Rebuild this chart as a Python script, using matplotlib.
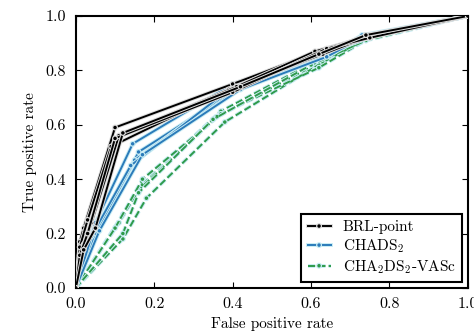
import matplotlib
matplotlib.use("Agg")
import matplotlib.pyplot as plt
import matplotlib.patheffects as pe

plt.rcParams['font.family'] = ['cmr10', 'DejaVu Serif']
plt.rcParams['mathtext.fontset'] = 'cm'
plt.rcParams['axes.formatter.use_mathtext'] = True

# ROC curves (5 folds per method): (fpr, tpr)
brl_fpr = [
    [0, 0.01, 0.02, 0.10, 0.40, 0.62, 0.75, 1.0],
    [0, 0.01, 0.03, 0.09, 0.39, 0.63, 0.74, 1.0],
    [0, 0.02, 0.04, 0.11, 0.41, 0.61, 0.76, 1.0],
    [0, 0.01, 0.03, 0.10, 0.40, 0.64, 0.75, 1.0],
    [0, 0.02, 0.05, 0.12, 0.42, 0.62, 0.74, 1.0],
]
brl_tpr = [
    [0, 0.17, 0.22, 0.59, 0.75, 0.87, 0.93, 1.0],
    [0, 0.15, 0.25, 0.52, 0.73, 0.86, 0.92, 1.0],
    [0, 0.16, 0.24, 0.56, 0.74, 0.87, 0.93, 1.0],
    [0, 0.12, 0.20, 0.55, 0.72, 0.88, 0.92, 1.0],
    [0, 0.14, 0.22, 0.57, 0.74, 0.86, 0.93, 1.0],
]
chads_fpr = [
    [0, 0.05, 0.145, 0.40, 0.64, 0.74, 1.0],
    [0, 0.06, 0.16, 0.41, 0.65, 0.73, 1.0],
    [0, 0.05, 0.15, 0.39, 0.63, 0.75, 1.0],
    [0, 0.04, 0.14, 0.40, 0.66, 0.74, 1.0],
    [0, 0.06, 0.17, 0.42, 0.64, 0.73, 1.0],
]
chads_tpr = [
    [0, 0.24, 0.53, 0.75, 0.87, 0.92, 1.0],
    [0, 0.22, 0.50, 0.73, 0.86, 0.93, 1.0],
    [0, 0.20, 0.47, 0.72, 0.86, 0.92, 1.0],
    [0, 0.19, 0.45, 0.74, 0.88, 0.93, 1.0],
    [0, 0.21, 0.49, 0.73, 0.85, 0.92, 1.0],
]
vasc_fpr = [
    [0, 0.12, 0.17, 0.37, 0.62, 0.75, 1.0],
    [0, 0.11, 0.16, 0.36, 0.61, 0.74, 1.0],
    [0, 0.12, 0.18, 0.38, 0.63, 0.76, 1.0],
    [0, 0.10, 0.17, 0.37, 0.62, 0.75, 1.0],
    [0, 0.12, 0.16, 0.35, 0.60, 0.74, 1.0],
]
vasc_tpr = [
    [0, 0.27, 0.38, 0.65, 0.84, 0.93, 1.0],
    [0, 0.24, 0.36, 0.63, 0.82, 0.92, 1.0],
    [0, 0.18, 0.33, 0.61, 0.83, 0.93, 1.0],
    [0, 0.22, 0.40, 0.64, 0.81, 0.92, 1.0],
    [0, 0.20, 0.35, 0.62, 0.82, 0.91, 1.0],
]
labels = ['BRL-point', r'CHADS$_2$', r'CHA$_2$DS$_2$-VASc']
ticks = [0.0, 0.2, 0.4, 0.6, 0.8, 1.0]

fig = plt.figure(figsize=(4.74, 3.34), dpi=100)
ax = fig.add_axes([0.160, 0.138, 0.827, 0.814])

halo = [pe.Stroke(linewidth=2.8, foreground='#c8ecf4'), pe.Normal()]

for i, (fx, ty) in enumerate(zip(vasc_fpr, vasc_tpr)):
    ax.plot(fx, ty, color='#2e9a4a', ls='--', lw=1.4, marker='.', ms=3,
            path_effects=halo, label=labels[2] if i == 0 else None, zorder=2)
for i, (fx, ty) in enumerate(zip(chads_fpr, chads_tpr)):
    ax.plot(fx, ty, color='#2b7bba', ls='-', lw=1.4, marker='.', ms=3,
            path_effects=halo, label=labels[1] if i == 0 else None, zorder=3)
for i, (fx, ty) in enumerate(zip(brl_fpr, brl_tpr)):
    ax.plot(fx, ty, color='black', ls='-', lw=1.4, marker='.', ms=3,
            path_effects=[pe.Stroke(linewidth=2.8, foreground='#dddddd'), pe.Normal()],
            label=labels[0] if i == 0 else None, zorder=4)

ax.set_xlim(0, 1)
ax.set_ylim(0, 1)
ax.set_xticks(ticks)
ax.set_yticks(ticks)
ax.set_xticklabels([f'{t:.1f}' for t in ticks])
ax.set_yticklabels([f'{t:.1f}' for t in ticks])
ax.tick_params(direction='in', top=True, right=True, labelsize=11.5, length=4, pad=7)
for s in ax.spines.values():
    s.set_linewidth(1.5)
ax.set_xlabel('False positive rate', fontsize=11, labelpad=4)
ax.set_ylabel('True positive rate', fontsize=11, labelpad=6)

h, l = ax.get_legend_handles_labels()
order = [2, 1, 0]
leg = ax.legend([h[k] for k in order], [l[k] for k in order], loc='lower right',
                fontsize=11, fancybox=False, framealpha=1, edgecolor='black',
                handlelength=1.5, labelspacing=0.2, borderaxespad=0.4)
leg.get_frame().set_linewidth(1.5)

fig.savefig('out.png', dpi=100)
